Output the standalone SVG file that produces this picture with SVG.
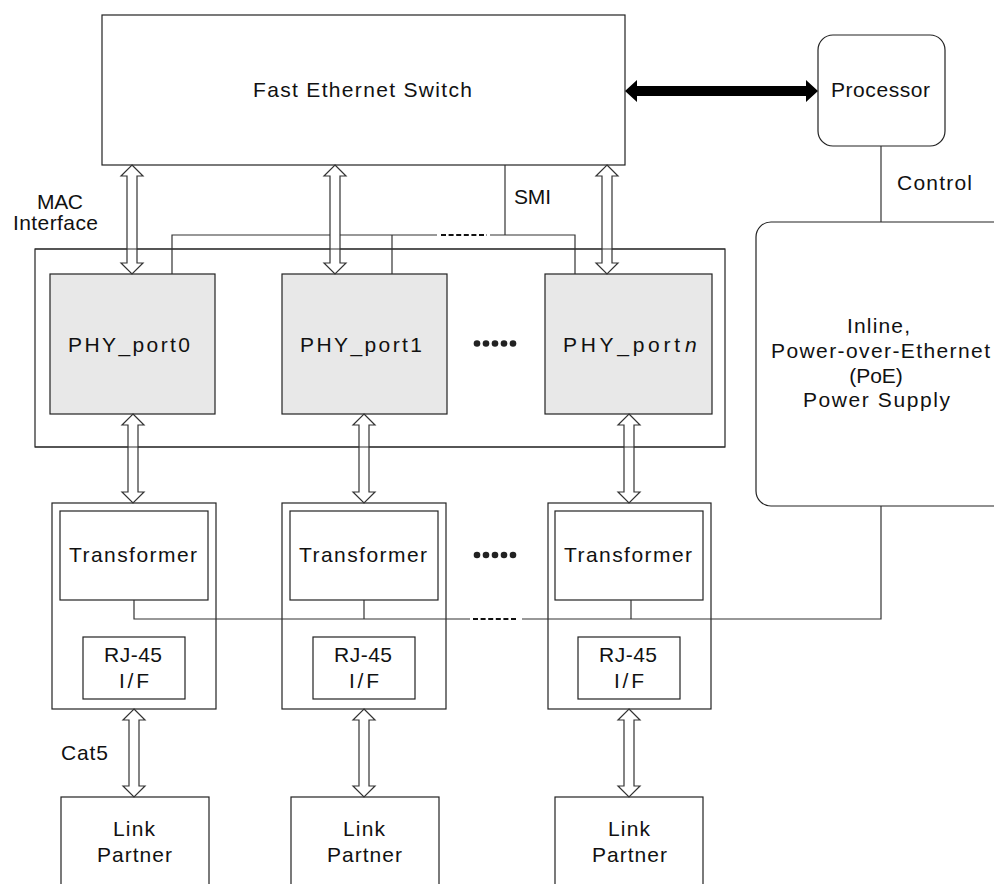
<svg xmlns="http://www.w3.org/2000/svg" width="994" height="884" viewBox="0 0 994 884">
<defs>
<style>
.box{fill:#fff;stroke:#222;stroke-width:1.2}
.frame{fill:none;stroke:#222;stroke-width:1.2}
.phy{fill:#e8e8e8;stroke:#222;stroke-width:1.2}
.ln{fill:none;stroke:#333;stroke-width:1.2}
.dash{fill:none;stroke:#111;stroke-width:2.2;stroke-dasharray:5,2.6}
.ba{fill:#fff;stroke:#333;stroke-width:1.2}
.t{font-family:"Liberation Sans",Arial,sans-serif;font-size:21px;fill:#111}
.c{text-anchor:middle}
</style>
</defs>
<rect width="994" height="884" fill="#fff"/>

<g id="switch">
  <rect class="box" x="102" y="15" width="523" height="150"/>
  <text class="t" x="253" y="97" textLength="219" lengthAdjust="spacing">Fast Ethernet Switch</text>
</g>

<g id="processor">
  <rect class="box" x="818" y="35" width="127" height="111" rx="15"/>
  <text class="t" x="831" y="97" textLength="99" lengthAdjust="spacing">Processor</text>
</g>

<g id="poe">
  <rect class="box" x="756" y="222" width="260" height="284" rx="15"/>
  <text class="t" x="847" y="333" textLength="63" lengthAdjust="spacing">Inline,</text>
  <text class="t" x="771" y="358" textLength="219" lengthAdjust="spacing">Power-over-Ethernet</text>
  <text class="t c" x="876" y="383">(PoE)</text>
  <text class="t" x="803" y="407" textLength="147" lengthAdjust="spacing">Power Supply</text>
</g>

<g id="labels">
  <text class="t" x="897" y="190" textLength="75" lengthAdjust="spacing">Control</text>
  <text class="t" x="514" y="204" textLength="37" lengthAdjust="spacing">SMI</text>
  <text class="t" x="37" y="209" textLength="46" lengthAdjust="spacing">MAC</text>
  <text class="t" x="13" y="230" textLength="85" lengthAdjust="spacing">Interface</text>
  <text class="t" x="61" y="760" textLength="47" lengthAdjust="spacing">Cat5</text>
</g>

<g id="phy_container">
  <rect class="frame" x="35" y="249" width="690" height="198"/>
</g>

<g id="phy0">
  <rect class="phy" x="50" y="274" width="165" height="140"/>
  <text class="t" x="68" y="352" textLength="122" lengthAdjust="spacing">PHY_port0</text>
</g>
<g id="phy1">
  <rect class="phy" x="282" y="274" width="165" height="140"/>
  <text class="t" x="300" y="352" textLength="122" lengthAdjust="spacing">PHY_port1</text>
</g>
<g id="phyn">
  <rect class="phy" x="545" y="274" width="167" height="140"/>
  <text class="t" x="563" y="352" textLength="117" lengthAdjust="spacing">PHY_port</text>
  <text class="t" x="685" y="352" font-style="italic">n</text>
</g>
<g id="dots1" fill="#222">
  <circle cx="477" cy="343.5" r="3.3"/><circle cx="486" cy="343.5" r="3.3"/><circle cx="495" cy="343.5" r="3.3"/><circle cx="504" cy="343.5" r="3.3"/><circle cx="513" cy="343.5" r="3.3"/>
</g>

<g id="xfmr0">
  <rect class="frame" x="52" y="503" width="164" height="206"/>
  <rect class="box" x="60" y="511" width="148" height="89"/>
  <text class="t" x="69" y="562" textLength="128" lengthAdjust="spacing">Transformer</text>
  <rect class="box" x="83" y="637" width="102" height="62"/>
  <text class="t" x="104" y="662" textLength="58" lengthAdjust="spacing">RJ-45</text>
  <text class="t" x="119" y="688" textLength="30" lengthAdjust="spacing">I/F</text>
</g>
<g id="xfmr1">
  <rect class="frame" x="282" y="503" width="164" height="206"/>
  <rect class="box" x="290" y="511" width="148" height="89"/>
  <text class="t" x="299" y="562" textLength="128" lengthAdjust="spacing">Transformer</text>
  <rect class="box" x="313" y="637" width="102" height="62"/>
  <text class="t" x="334" y="662" textLength="58" lengthAdjust="spacing">RJ-45</text>
  <text class="t" x="349" y="688" textLength="30" lengthAdjust="spacing">I/F</text>
</g>
<g id="xfmrn">
  <rect class="frame" x="548" y="503" width="163" height="206"/>
  <rect class="box" x="555" y="511" width="148" height="89"/>
  <text class="t" x="564" y="562" textLength="128" lengthAdjust="spacing">Transformer</text>
  <rect class="box" x="578" y="637" width="102" height="62"/>
  <text class="t" x="599" y="662" textLength="58" lengthAdjust="spacing">RJ-45</text>
  <text class="t" x="614" y="688" textLength="30" lengthAdjust="spacing">I/F</text>
</g>
<g id="dots2" fill="#222">
  <circle cx="477" cy="555" r="3.3"/><circle cx="486" cy="555" r="3.3"/><circle cx="495" cy="555" r="3.3"/><circle cx="504" cy="555" r="3.3"/><circle cx="513" cy="555" r="3.3"/>
</g>

<g id="lp0">
  <rect class="box" x="61" y="797" width="148" height="100"/>
  <text class="t" x="113" y="836" textLength="42" lengthAdjust="spacing">Link</text>
  <text class="t" x="97" y="862" textLength="75" lengthAdjust="spacing">Partner</text>
</g>
<g id="lp1">
  <rect class="box" x="291" y="797" width="148" height="100"/>
  <text class="t" x="343" y="836" textLength="42" lengthAdjust="spacing">Link</text>
  <text class="t" x="327" y="862" textLength="75" lengthAdjust="spacing">Partner</text>
</g>
<g id="lpn">
  <rect class="box" x="555" y="797" width="148" height="100"/>
  <text class="t" x="608" y="836" textLength="42" lengthAdjust="spacing">Link</text>
  <text class="t" x="592" y="862" textLength="75" lengthAdjust="spacing">Partner</text>
</g>

<g id="connectors">
  <polygon points="625,91 637,80 637,86 806,86 806,80 818,91 806,102 806,96 637,96 637,102" fill="#000"/>
  <line class="ln" x1="881" y1="146" x2="881" y2="222"/>
  <line class="ln" x1="505" y1="165" x2="505" y2="235"/>
  <polyline class="ln" points="172,274 172,235 437,235"/>
  <polyline class="ln" points="490,235 575,235 575,274"/>
  <line class="ln" x1="392" y1="235" x2="392" y2="274"/>
  <line class="dash" x1="441" y1="235" x2="487" y2="235"/>
  <polyline class="ln" points="134,600 134,619 470,619"/>
  <polyline class="ln" points="522,619 881,619 881,506"/>
  <line class="ln" x1="364" y1="600" x2="364" y2="619"/>
  <line class="ln" x1="631" y1="600" x2="631" y2="619"/>
  <line class="dash" x1="473" y1="619" x2="518" y2="619"/>
  <path class="ba" d="M132,165 L143,176 L137,176 L137,263 L143,263 L132,274 L121,263 L127,263 L127,176 L121,176 Z"/>
  <path class="ba" d="M335,165 L346,176 L340,176 L340,263 L346,263 L335,274 L324,263 L330,263 L330,176 L324,176 Z"/>
  <path class="ba" d="M607,165 L618,176 L612,176 L612,263 L618,263 L607,274 L596,263 L602,263 L602,176 L596,176 Z"/>
  <path class="ba" d="M133,414 L144,425 L138,425 L138,492 L144,492 L133,503 L122,492 L128,492 L128,425 L122,425 Z"/>
  <path class="ba" d="M364,414 L375,425 L369,425 L369,492 L375,492 L364,503 L353,492 L359,492 L359,425 L353,425 Z"/>
  <path class="ba" d="M629,414 L640,425 L634,425 L634,492 L640,492 L629,503 L618,492 L624,492 L624,425 L618,425 Z"/>
  <path class="ba" d="M134,709 L145,720 L139,720 L139,786 L145,786 L134,797 L123,786 L129,786 L129,720 L123,720 Z"/>
  <path class="ba" d="M364,709 L375,720 L369,720 L369,786 L375,786 L364,797 L353,786 L359,786 L359,720 L353,720 Z"/>
  <path class="ba" d="M629,709 L640,720 L634,720 L634,786 L640,786 L629,797 L618,786 L624,786 L624,720 L618,720 Z"/>
  <line class="ln" x1="35" y1="249" x2="725" y2="249"/>
  <line class="ln" x1="35" y1="447" x2="725" y2="447"/>
</g>
</svg>
